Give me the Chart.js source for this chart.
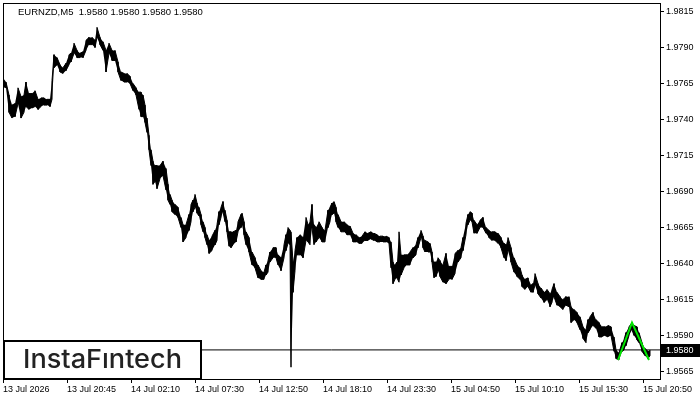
<!DOCTYPE html>
<html>
<head>
<meta charset="utf-8">
<script src="https://cdn.jsdelivr.net/npm/chart.js@4.4.1/dist/chart.umd.min.js"></script>
<style>
  html, body { margin: 0; padding: 0; background: #fff; }
  canvas { display: block; }
</style>
</head>
<body>
<canvas id="EurNzdChart" width="700" height="400"></canvas>
<script>
// EURNZD M5, bar number since first bar on the chart
var bars = [
  0,3,6,9,12,15,18,21,23,26, 29,32,35,38,41,44,47,49,51,54,
  57,60,63,66,68,71,74,77,80,83, 86,89,92,94,97,100,103,106,109,112,
  115,118,121,124,127,130,133,136,138,140, 142,144,146,148,150,152,154,157,160,163,
  165,167,169,172,175,178,180,183,186,188, 190,192,194,196,198,200,202,204,206,209,
  212,214,216,218,220,222,224,226,228,230, 233,235,238,239,241,243,246,249,252,255,
  258,261,263,265,267,270,273,275,278,281, 283,285,287,288,290,292,294,297,300,303,
  305,307,309,311,313,316,319,322,325,327, 329,331,333,335,338,341,344,347,350,353,
  356,359,362,365,368,371,374,377,380,383, 386,388,390,392,394,396,398,401,404,407,
  410,413,415,418,420,422,425,427,429,431, 433,435,437,440,443,446,449,452,455,458,
  460,463,465,467,469,471,474,477,480,483, 486,489,492,495,498,501,503,505,508,511,
  514,517,519,522,525,528,530,532,535,538, 541,544,547,549,551,554,557,560,563,566,
  568,571,574,577,580,583,585,587,590,593, 596,599,602,605,608,611,613,616,619,621,
  623,626,629,631,634,636,639,642,645,647
];

var highs = [
  1.9769,1.9766,1.9757,1.9750,1.9751,1.9762,1.9756,1.9757,1.9766,1.9758,
  1.9758,1.9760,1.9754,1.9755,1.9755,1.9754,1.9754,1.9767,1.9785,1.9783,
  1.9778,1.9776,1.9779,1.9785,1.9786,1.9793,1.9788,1.9786,1.9787,1.9795,
  1.9797,1.9797,1.9795,1.9804,1.9797,1.9794,1.9788,1.9793,1.9788,1.9788,
  1.9780,1.9773,1.9772,1.9772,1.9770,1.9765,1.9762,1.9759,1.9759,1.9757,
  1.9750,1.9741,1.9729,1.9719,1.9711,1.9708,1.9708,1.9708,1.9711,1.9706,
  1.9695,1.9688,1.9684,1.9681,1.9679,1.9672,1.9667,1.9667,1.9674,1.9681,
  1.9684,1.9688,1.9682,1.9679,1.9674,1.9669,1.9665,1.9660,1.9656,1.9659,
  1.9663,1.9667,1.9676,1.9679,1.9683,1.9677,1.9670,1.9662,1.9662,1.9662,
  1.9663,1.9669,1.9674,1.9675,1.9669,1.9662,1.9658,1.9648,1.9644,1.9639,
  1.9635,1.9634,1.9639,1.9642,1.9648,1.9651,1.9651,1.9646,1.9644,1.9653,
  1.9660,1.9665,1.9663,1.9662,1.9641,1.9649,1.9658,1.9660,1.9658,1.9672,
  1.9667,1.9669,1.9681,1.9667,1.9665,1.9669,1.9665,1.9663,1.9677,1.9679,
  1.9682,1.9683,1.9679,1.9674,1.9669,1.9669,1.9667,1.9666,1.9661,1.9660,
  1.9658,1.9659,1.9662,1.9661,1.9662,1.9661,1.9660,1.9659,1.9659,1.9659,
  1.9658,1.9655,1.9641,1.9639,1.9641,1.9662,1.9646,1.9646,1.9646,1.9648,
  1.9651,1.9653,1.9658,1.9663,1.9659,1.9656,1.9655,1.9654,1.9648,1.9641,
  1.9641,1.9644,1.9642,1.9639,1.9647,1.9638,1.9638,1.9647,1.9649,1.9651,
  1.9658,1.9668,1.9674,1.9676,1.9675,1.9670,1.9667,1.9670,1.9672,1.9665,
  1.9663,1.9662,1.9662,1.9661,1.9658,1.9654,1.9653,1.9658,1.9651,1.9644,
  1.9639,1.9637,1.9632,1.9629,1.9630,1.9625,1.9626,1.9633,1.9626,1.9623,
  1.9620,1.9622,1.9619,1.9622,1.9626,1.9620,1.9617,1.9615,1.9617,1.9617,
  1.9610,1.9608,1.9606,1.9603,1.9596,1.9594,1.9601,1.9603,1.9606,1.9601,
  1.9599,1.9596,1.9596,1.9597,1.9596,1.9589,1.9580,1.9578,1.9585,1.9587,
  1.9592,1.9596,1.9599,1.9597,1.9596,1.9592,1.9585,1.9581,1.9579,1.9580
];

var lows = [
  1.9763,1.9762,1.9745,1.9741,1.9742,1.9751,1.9741,1.9745,1.9749,1.9747,
  1.9748,1.9749,1.9747,1.9749,1.9750,1.9750,1.9749,1.9754,1.9776,1.9778,
  1.9773,1.9772,1.9774,1.9778,1.9780,1.9786,1.9783,1.9783,1.9783,1.9788,
  1.9792,1.9792,1.9790,1.9797,1.9792,1.9788,1.9773,1.9786,1.9781,1.9781,
  1.9773,1.9767,1.9766,1.9766,1.9765,1.9760,1.9757,1.9747,1.9742,1.9742,
  1.9738,1.9731,1.9719,1.9708,1.9695,1.9697,1.9692,1.9699,1.9701,1.9691,
  1.9684,1.9681,1.9676,1.9674,1.9672,1.9665,1.9655,1.9658,1.9663,1.9669,
  1.9676,1.9679,1.9675,1.9673,1.9667,1.9662,1.9658,1.9653,1.9647,1.9649,
  1.9653,1.9656,1.9667,1.9672,1.9676,1.9669,1.9662,1.9652,1.9651,1.9653,
  1.9655,1.9662,1.9665,1.9667,1.9660,1.9653,1.9648,1.9639,1.9637,1.9630,
  1.9629,1.9629,1.9632,1.9634,1.9641,1.9644,1.9644,1.9639,1.9635,1.9644,
  1.9649,1.9654,1.9653,1.9568,1.9620,1.9635,1.9646,1.9646,1.9644,1.9656,
  1.9655,1.9653,1.9665,1.9653,1.9655,1.9658,1.9655,1.9655,1.9665,1.9669,
  1.9674,1.9675,1.9669,1.9665,1.9662,1.9662,1.9660,1.9660,1.9655,1.9655,
  1.9654,1.9654,1.9656,1.9656,1.9657,1.9656,1.9655,1.9655,1.9655,1.9655,
  1.9654,1.9637,1.9626,1.9629,1.9630,1.9627,1.9632,1.9637,1.9639,1.9639,
  1.9644,1.9646,1.9651,1.9658,1.9651,1.9648,1.9648,1.9648,1.9641,1.9630,
  1.9631,1.9635,1.9631,1.9627,1.9626,1.9629,1.9629,1.9633,1.9641,1.9644,
  1.9649,1.9660,1.9667,1.9670,1.9669,1.9661,1.9661,1.9665,1.9665,1.9661,
  1.9658,1.9656,1.9656,1.9654,1.9651,1.9644,1.9642,1.9649,1.9641,1.9634,
  1.9631,1.9629,1.9624,1.9622,1.9624,1.9620,1.9620,1.9625,1.9619,1.9616,
  1.9613,1.9615,1.9610,1.9613,1.9617,1.9611,1.9610,1.9608,1.9611,1.9610,
  1.9599,1.9601,1.9599,1.9594,1.9588,1.9585,1.9592,1.9594,1.9597,1.9595,
  1.9589,1.9589,1.9590,1.9589,1.9590,1.9579,1.9574,1.9573,1.9579,1.9580,
  1.9583,1.9590,1.9594,1.9590,1.9587,1.9585,1.9579,1.9576,1.9574,1.9576
];

var timeBars = [0, 64, 128, 192, 256, 320, 384, 448, 512, 576, 640];
var timeLabels = ['13 Jul 2026', '13 Jul 20:45', '14 Jul 02:10', '14 Jul 07:30', '14 Jul 12:50',
  '14 Jul 18:10', '14 Jul 23:30', '15 Jul 04:50', '15 Jul 10:10', '15 Jul 15:30', '15 Jul 20:50'];
var priceTicks = [1.9565, 1.9590, 1.9615, 1.9640, 1.9665, 1.9690, 1.9715, 1.9740, 1.9765, 1.9790, 1.9815];

// double top pattern (green)
var patternBars = [615, 629, 646];
var patternPrices = [1.9573, 1.9599, 1.9573];

var symbol = 'EURNZD,M5';
var bid = 1.9580;
var ohlc = [1.9580, 1.9580, 1.9580, 1.9580];
var barCount = 657;

var fontFamily = '"Liberation Sans", Arial, sans-serif';

function pts(xs, ys) {
  var out = [];
  for (var i = 0; i < xs.length; i++) out.push({ x: xs[i], y: ys[i] });
  return out;
}

// high/low zigzag so the band looks like tightly packed bars
function zigzag(xs, hi, lo) {
  var out = [];
  for (var i = 0; i < xs.length; i++) {
    if (i % 2 === 0) {
      out.push({ x: xs[i], y: hi[i] });
      out.push({ x: xs[i], y: lo[i] });
    } else {
      out.push({ x: xs[i], y: lo[i] });
      out.push({ x: xs[i], y: hi[i] });
    }
  }
  return out;
}

var overlay = {
  id: 'overlay',
  afterDraw: function (chart) {
    var ctx = chart.ctx;
    var a = chart.chartArea;
    var y = chart.scales.y;
    ctx.save();
    // frame
    ctx.strokeStyle = '#000';
    ctx.lineWidth = 1;
    ctx.strokeRect(a.left + 0.5, a.top + 0.5, a.right - a.left, a.bottom - a.top);

    // header text
    ctx.fillStyle = '#000';
    ctx.font = '9.5px ' + fontFamily;
    ctx.textAlign = 'left';
    ctx.textBaseline = 'alphabetic';
    ctx.fillText(symbol + '  ' + ohlc.map(function (v) { return v.toFixed(4); }).join(' '), 18, 15);

    // bid label on the price axis
    var by = Math.round(y.getPixelForValue(bid));
    ctx.font = '9px ' + fontFamily;
    ctx.fillStyle = '#000';
    ctx.fillRect(a.right + 1, by - 6, 700 - a.right - 1, 13);
    ctx.fillStyle = '#fff';
    ctx.textBaseline = 'middle';
    ctx.fillText(bid.toFixed(4), a.right + 6, by + 0.5);

    // logo box
    ctx.fillStyle = '#fff';
    ctx.fillRect(3, 340, 199, 39);
    ctx.strokeStyle = '#000';
    ctx.lineWidth = 2;
    ctx.strokeRect(4, 341, 197, 38);
    ctx.fillStyle = '#222';
    ctx.font = '500 26px Inter, "Noto Sans", sans-serif';
    var txt = 'InstaF\u0131ntech';
    var w = ctx.measureText(txt).width;
    ctx.textBaseline = 'alphabetic';
    ctx.translate(23, 368);
    ctx.scale(159 / w, 1);
    ctx.fillText(txt, 0, 0);
    ctx.restore();
  }
};

var chart = new Chart(document.getElementById('EurNzdChart'), {
  type: 'line',
  data: {
    datasets: [
      {
        label: 'pattern',
        data: pts(patternBars, patternPrices),
        borderColor: 'rgb(0, 230, 0)',
        borderWidth: 2,
        pointRadius: 0,
        order: 0
      },
      {
        label: 'bid',
        data: pts([0, barCount], [bid, bid]),
        borderColor: '#000',
        borderWidth: 1,
        pointRadius: 0,
        order: 1
      },
      {
        label: 'high',
        data: pts(bars, highs),
        borderColor: '#000',
        borderWidth: 0,
        pointRadius: 0,
        fill: false,
        order: 2
      },
      {
        label: 'low',
        data: pts(bars, lows),
        borderColor: '#000',
        backgroundColor: '#000',
        borderWidth: 0,
        pointRadius: 0,
        fill: '-1',
        order: 3
      },
      {
        label: 'bars',
        data: zigzag(bars, highs, lows),
        borderColor: '#000',
        borderWidth: 1,
        pointRadius: 0,
        order: 4
      }
    ]
  },
  options: {
    responsive: false,
    animation: false,
    devicePixelRatio: 1,
    layout: { padding: { left: 3, top: 3, right: 0, bottom: 0 } },
    plugins: { legend: { display: false }, tooltip: { enabled: false } },
    elements: { line: { tension: 0 } },
    scales: {
      x: {
        type: 'linear',
        min: 0,
        max: barCount,
        border: { display: false },
        grid: { drawOnChartArea: false, drawTicks: true, tickLength: 4, color: '#000' },
        ticks: {
          autoSkip: false,
          maxRotation: 0,
          minRotation: 0,
          align: 'start',
          padding: 1,
          color: '#000',
          font: { family: fontFamily, size: 9 },
          callback: function (v, i) { return timeLabels[i]; }
        },
        afterBuildTicks: function (s) { s.ticks = timeBars.map(function (v) { return { value: v }; }); },
        afterFit: function (s) { s.height = 21; s.paddingLeft = 0; s.paddingRight = 0; }
      },
      y: {
        position: 'right',
        min: 1.95598,
        max: 1.98209,
        border: { display: false },
        grid: { drawOnChartArea: false, drawTicks: true, tickLength: 4, color: '#000' },
        ticks: {
          padding: 2,
          color: '#000',
          font: { family: fontFamily, size: 9 },
          callback: function (v) { return v.toFixed(4); }
        },
        afterBuildTicks: function (s) { s.ticks = priceTicks.map(function (v) { return { value: v }; }); },
        afterFit: function (s) { s.width = 40; s.paddingTop = 0; s.paddingBottom = 0; }
      }
    }
  },
  plugins: [overlay]
});
</script>
</body>
</html>
